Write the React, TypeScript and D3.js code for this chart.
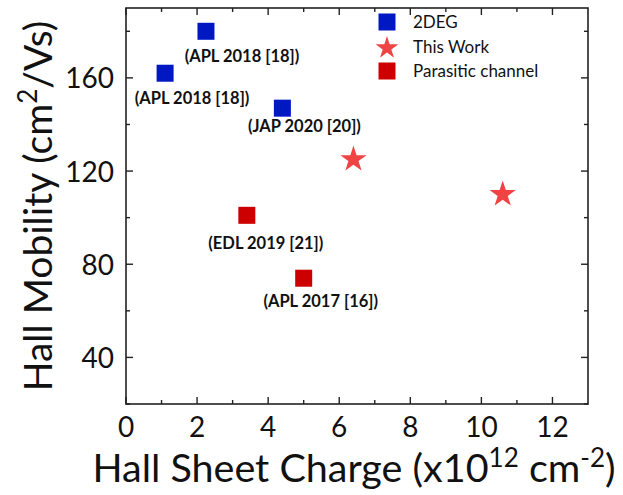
import React from "react";
import * as d3 from "d3";

const W = 623;
const H = 495;
const M = { left: 126, top: 8, right: 588, bottom: 404 };

// Data
const degX = [1.1, 2.25, 4.4];
const degY = [162, 180, 147];
const degLabels = ["(APL 2018 [18])", "(APL 2018 [18])", "(JAP 2020 [20])"];
const parX = [3.4, 5.0];
const parY = [101, 74];
const parLabels = ["(EDL 2019 [21])", "(APL 2017 [16])"];
const workX = [6.4, 10.6];
const workY = [125, 110];

// annotation offsets (px) of label center/baseline relative to marker
const degLabelOffsets = [[27, 31], [36, 31], [22, 24]];
const parLabelOffsets = [[19, 34], [17, 29]];

const xMajor = [0, 2, 4, 6, 8, 10, 12];
const xMinor = [1, 3, 5, 7, 9, 11];
const yMajor = [40, 80, 120, 160];
const yMinor = [20, 60, 100, 140, 180];

const legendItems = ["2DEG", "This Work", "Parasitic channel"];

const BLUE = "#0018C2";
const RED = "#CC0000";
const STAR = "#F04444";
const AXIS = "#222";
const FONT = "Lato, 'Open Sans', sans-serif";

export default function App() {
  const x = d3.scaleLinear().domain([0, 13]).range([M.left, M.right]);
  const y = d3.scaleLinear().domain([20, 190]).range([M.bottom, M.top]);
  const star = d3.symbol().type(d3.symbolStar).size(215)();
  const starLegend = d3.symbol().type(d3.symbolStar).size(160)();
  const sq = 17;

  const majLen = 7;
  const minLen = 4;

  return (
    <svg
      width={W}
      height={H}
      style={{ position: "absolute", left: 0, top: 0, background: "#fff" }}
      fontFamily={FONT}
    >
      <rect x={0} y={0} width={W} height={H} fill="#fff" />
      {/* frame */}
      <rect
        x={M.left}
        y={M.top}
        width={M.right - M.left}
        height={M.bottom - M.top}
        fill="none"
        stroke={AXIS}
        strokeWidth={1.6}
      />
      {/* x ticks bottom & top */}
      {xMajor.map((v) => (
        <g key={"xM" + v}>
          <line x1={x(v)} x2={x(v)} y1={M.bottom} y2={M.bottom - majLen} stroke={AXIS} strokeWidth={1.4} />
          <line x1={x(v)} x2={x(v)} y1={M.top} y2={M.top + majLen} stroke={AXIS} strokeWidth={1.4} />
          <text x={x(v)} y={437} textAnchor="middle" fontSize={28} fill="#111">
            {v}
          </text>
        </g>
      ))}
      {xMinor.map((v) => (
        <g key={"xm" + v}>
          <line x1={x(v)} x2={x(v)} y1={M.bottom} y2={M.bottom - minLen} stroke={AXIS} strokeWidth={1.4} />
          <line x1={x(v)} x2={x(v)} y1={M.top} y2={M.top + minLen} stroke={AXIS} strokeWidth={1.4} />
        </g>
      ))}
      {/* y ticks left & right */}
      {yMajor.map((v) => (
        <g key={"yM" + v}>
          <line x1={M.left} x2={M.left + majLen} y1={y(v)} y2={y(v)} stroke={AXIS} strokeWidth={1.4} />
          <line x1={M.right} x2={M.right - majLen} y1={y(v)} y2={y(v)} stroke={AXIS} strokeWidth={1.4} />
          <text x={114} y={y(v) + 10.5} textAnchor="end" fontSize={28} fill="#111">
            {v}
          </text>
        </g>
      ))}
      {yMinor.map((v) => (
        <g key={"ym" + v}>
          <line x1={M.left} x2={M.left + minLen} y1={y(v)} y2={y(v)} stroke={AXIS} strokeWidth={1.4} />
          <line x1={M.right} x2={M.right - minLen} y1={y(v)} y2={y(v)} stroke={AXIS} strokeWidth={1.4} />
        </g>
      ))}

      {/* axis titles */}
      <text x={354} y={482} textAnchor="middle" fontSize={39.5} fill="#111">
        Hall Sheet Charge (x10
        <tspan fontSize={26} dy={-15}>12</tspan>
        <tspan dy={15}> cm</tspan>
        <tspan fontSize={26} dy={-15}>-2</tspan>
        <tspan dy={15}>)</tspan>
      </text>
      <text
        transform={`translate(52,206) rotate(-90)`}
        textAnchor="middle"
        fontSize={39}
        fill="#111"
      >
        Hall Mobility (cm
        <tspan fontSize={26} dy={-15}>2</tspan>
        <tspan dy={15}>/Vs)</tspan>
      </text>

      {/* 2DEG */}
      {degX.map((v, i) => (
        <g key={"d" + i}>
          <rect x={x(v) - sq / 2} y={y(degY[i]) - sq / 2} width={sq} height={sq} fill={BLUE} />
          <text
            x={x(v) + degLabelOffsets[i][0]}
            y={y(degY[i]) + degLabelOffsets[i][1]}
            textAnchor="middle"
            fontSize={16.5}
            fontWeight="bold"
            fill="#111"
          >
            {degLabels[i]}
          </text>
        </g>
      ))}
      {/* parasitic */}
      {parX.map((v, i) => (
        <g key={"p" + i}>
          <rect x={x(v) - sq / 2} y={y(parY[i]) - sq / 2} width={sq} height={sq} fill={RED} />
          <text
            x={x(v) + parLabelOffsets[i][0]}
            y={y(parY[i]) + parLabelOffsets[i][1]}
            textAnchor="middle"
            fontSize={16.5}
            fontWeight="bold"
            fill="#111"
          >
            {parLabels[i]}
          </text>
        </g>
      ))}
      {/* this work */}
      {workX.map((v, i) => (
        <path key={"w" + i} d={star} transform={`translate(${x(v)},${y(workY[i])})`} fill={STAR} />
      ))}

      {/* legend */}
      <g>
        <rect x={387 - sq / 2} y={22 - sq / 2} width={sq} height={sq} fill={BLUE} />
        <path d={starLegend} transform={`translate(387,48)`} fill={STAR} />
        <rect x={387 - sq / 2} y={71 - sq / 2} width={sq} height={sq} fill={RED} />
        {legendItems.map((t, i) => (
          <text key={t} x={413} y={28 + i * 24.7} fontSize={17} fill="#111">
            {t}
          </text>
        ))}
      </g>
    </svg>
  );
}
